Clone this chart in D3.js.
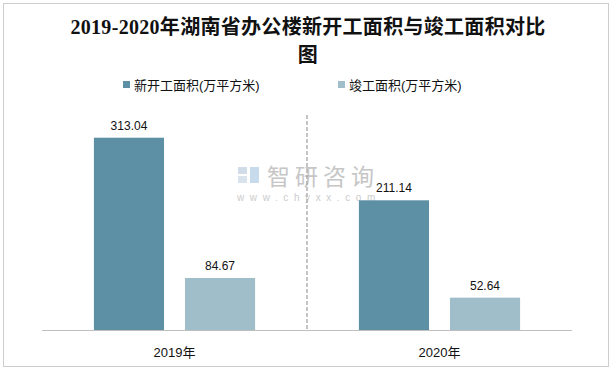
<!DOCTYPE html>
<html>
<head>
<meta charset="utf-8">
<script src="https://cdn.jsdelivr.net/npm/d3@7"></script>
<style>
  body { margin: 0; background: #fff; }
  svg { display: block; }
</style>
</head>
<body>
<div id="chart"></div>
<script>
// data
const years = ["2019年", "2020年"];
const seriesNames = ["新开工面积(万平方米)", "竣工面积(万平方米)"];
const newStart = [313.04, 211.14];
const completed = [84.67, 52.64];
const seriesColors = ["#5e90a5", "#a0bdca"];

const width = 612, height = 371;
const sansFont = "'Liberation Sans', 'Noto Sans CJK SC', sans-serif";

const svg = d3.select("#chart").append("svg")
    .attr("width", width)
    .attr("height", height);

// outer dotted frame
svg.append("rect")
    .attr("x", 3.5).attr("y", 3.5)
    .attr("width", 605).attr("height", 363)
    .attr("fill", "#fff")
    .attr("stroke", "#9a9a9a")
    .attr("stroke-dasharray", "1,1");

// title
const title = svg.append("text")
    .attr("text-anchor", "middle")
    .style("font-family", "'Liberation Serif', 'Noto Sans CJK SC', serif")
    .style("font-weight", "bold")
    .style("font-size", "20px")
    .style("letter-spacing", "0.3px")
    .attr("fill", "#111");
title.append("tspan").attr("x", 308).attr("y", 34)
    .text("2019-2020年湖南省办公楼新开工面积与竣工面积对比");
title.append("tspan").attr("x", 308).attr("y", 62).text("图");

// scales
const x0 = d3.scaleBand().domain(years).range([42, 572]);
const x1 = d3.scaleBand().domain(seriesNames)
    .range([0, x0.bandwidth()])
    .paddingInner(0.23).paddingOuter(0.57);
const y = d3.scaleLinear().domain([0, 350]).range([330, 115]);

// watermark
const wm = svg.append("g").attr("opacity", 0.85);
wm.append("rect").attr("x", 238).attr("y", 167).attr("width", 9).attr("height", 7).attr("fill", "#c9d6e6");
wm.append("rect").attr("x", 238).attr("y", 176).attr("width", 9).attr("height", 7).attr("fill", "#d3dfeb");
wm.append("rect").attr("x", 250).attr("y", 167).attr("width", 9).attr("height", 16).attr("fill", "#bfd5ea");
wm.append("text")
    .attr("x", 267).attr("y", 185)
    .style("font-family", "'Noto Sans CJK SC', sans-serif")
    .style("font-size", "23px")
    .style("letter-spacing", "5px")
    .attr("fill", "#bdbdbd")
    .text("智研咨询");
wm.append("text")
    .attr("x", 237).attr("y", 201)
    .style("font-family", sansFont)
    .style("font-size", "10px")
    .style("letter-spacing", "5.6px")
    .attr("fill", "#c4c4c4")
    .text("www.chyxx.com");

// divider between categories
svg.append("line")
    .attr("x1", x0.range()[0] + x0.step()).attr("x2", x0.range()[0] + x0.step())
    .attr("y1", y(350)).attr("y2", y(0))
    .attr("stroke", "#a6a6a6")
    .attr("stroke-width", 1.3)
    .attr("stroke-dasharray", "4,2");

// bars
const rows = years.map((yr, i) => ({
  year: yr,
  values: [
    { name: seriesNames[0], value: newStart[i], color: seriesColors[0] },
    { name: seriesNames[1], value: completed[i], color: seriesColors[1] }
  ]
}));

const groups = svg.selectAll("g.group")
    .data(rows)
    .enter().append("g")
    .attr("class", "group")
    .attr("transform", d => `translate(${x0(d.year)},0)`);

groups.selectAll("rect")
    .data(d => d.values)
    .enter().append("rect")
    .attr("x", d => x1(d.name))
    .attr("y", d => y(d.value))
    .attr("width", x1.bandwidth())
    .attr("height", d => y(0) - y(d.value))
    .attr("fill", d => d.color);

groups.selectAll("text.label")
    .data(d => d.values)
    .enter().append("text")
    .attr("class", "label")
    .attr("x", d => x1(d.name) + x1.bandwidth() / 2)
    .attr("y", d => y(d.value) - 8)
    .attr("text-anchor", "middle")
    .style("font-family", sansFont)
    .style("font-size", "12px")
    .attr("fill", "#111")
    .text(d => d.value.toFixed(2));

// x axis
svg.append("line")
    .attr("x1", 42).attr("x2", 572)
    .attr("y1", y(0) + 0.5).attr("y2", y(0) + 0.5)
    .attr("stroke", "#bfbfbf");

svg.selectAll("text.xlab")
    .data(years)
    .enter().append("text")
    .attr("class", "xlab")
    .attr("x", d => x0(d) + x0.bandwidth() / 2)
    .attr("y", 357)
    .attr("text-anchor", "middle")
    .style("font-family", sansFont)
    .style("font-size", "13px")
    .attr("fill", "#111")
    .text(d => d);

// legend
const legendX = [123, 338];
const legend = svg.selectAll("g.legend")
    .data(seriesNames)
    .enter().append("g")
    .attr("class", "legend")
    .attr("transform", (d, i) => `translate(${legendX[i]},85)`);

legend.append("rect")
    .attr("x", 0).attr("y", -4)
    .attr("width", 7).attr("height", 7)
    .attr("fill", (d, i) => seriesColors[i]);

legend.append("text")
    .attr("x", 11).attr("y", 4.5)
    .style("font-family", sansFont)
    .style("font-size", "13px")
    .attr("fill", "#111")
    .text(d => d);
</script>
</body>
</html>
